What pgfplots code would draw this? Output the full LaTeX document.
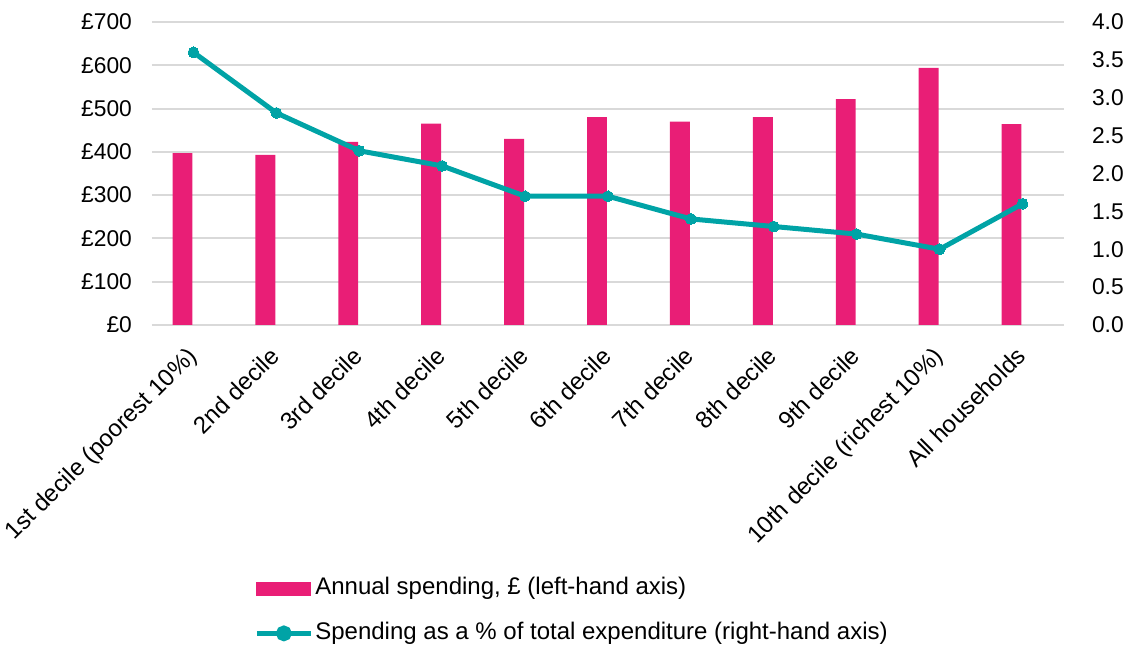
\documentclass[border=0pt]{standalone}
\usepackage{fontspec}
\setmainfont{Liberation Sans}
\usepackage{pgfplots}
\pgfplotsset{compat=1.18}
\definecolor{barpink}{RGB}{233,30,118}
\definecolor{lineteal}{RGB}{0,163,166}
\definecolor{gridgray}{RGB}{217,217,217}
\begin{document}
\begin{tikzpicture}[font=\fontsize{11.4}{13.6}\selectfont]
\useasboundingbox (-76pt,-160.5pt) rectangle (489.5pt,162.5pt);
\pgfplotsset{
  common/.style={width=456pt, height=151.5pt, scale only axis, at={(0pt,0pt)}, anchor=south west,
    xmin=-0.5, xmax=10.5, axis line style={draw=none}, major tick length=0pt, tick style={draw=none}},
}
\begin{axis}[common, ymin=0, ymax=700, ytick={0,100,...,700},
  yticklabels={£0,£100,£200,£300,£400,£500,£600,£700},
  yticklabel style={xshift=-6.5pt},
  ymajorgrids, grid style={gridgray, line width=1pt},
  xtick={0,...,10},
  xticklabels={1st decile (poorest 10\%),2nd decile,3rd decile,4th decile,5th decile,6th decile,7th decile,8th decile,9th decile,10th decile (richest 10\%),All households},
  xticklabel style={rotate=45, anchor=north east, xshift=-6.5pt, yshift=-1pt, font=\fontsize{12}{14}\selectfont}]
\addplot[ybar, bar width=0.24, bar shift=-5.5pt, fill=barpink, draw=none] coordinates {
(0,397) (1,393) (2,423) (3,465) (4,430) (5,480) (6,470) (7,480) (8,522) (9,594) (10,464)};
\end{axis}
\begin{axis}[common, axis y line*=right, ymin=0, ymax=4, ytick={0,0.5,...,4},
  yticklabels={0.0,0.5,1.0,1.5,2.0,2.5,3.0,3.5,4.0},
  yticklabel style={xshift=10.5pt},
  xtick=\empty,
  legend cell align=left,
  legend style={draw=none, fill=none, inner sep=0pt, row sep=11pt,
    at={(rel axis cs:0.1118,-0.832)}, anchor=north west, font=\fontsize{12}{14}\selectfont,
    nodes={inner xsep=1pt, inner ysep=0pt, text height=8.7pt, text depth=2.6pt}}]
\addlegendimage{legend image code/.code={\fill[barpink] (0pt,-3.25pt) rectangle (27pt,3.25pt);}}
\addlegendentry{Annual spending, £ (left-hand axis)}
\addplot[lineteal, line width=2.5pt, mark=*, mark size=2.7pt, mark options={fill=lineteal, draw=lineteal, line width=0pt},
  legend image code/.code={\draw[lineteal,line width=2.5pt] (0pt,0pt) -- (27pt,0pt); \fill[lineteal] (13.5pt,0pt) circle (2.7pt);}]
coordinates {(0,3.6) (1,2.8) (2,2.3) (3,2.1) (4,1.7) (5,1.7) (6,1.4) (7,1.3) (8,1.2) (9,1.0) (10,1.6)};
\addlegendentry{Spending as a \% of total expenditure (right-hand axis)}
\end{axis}
\end{tikzpicture}
\end{document}
